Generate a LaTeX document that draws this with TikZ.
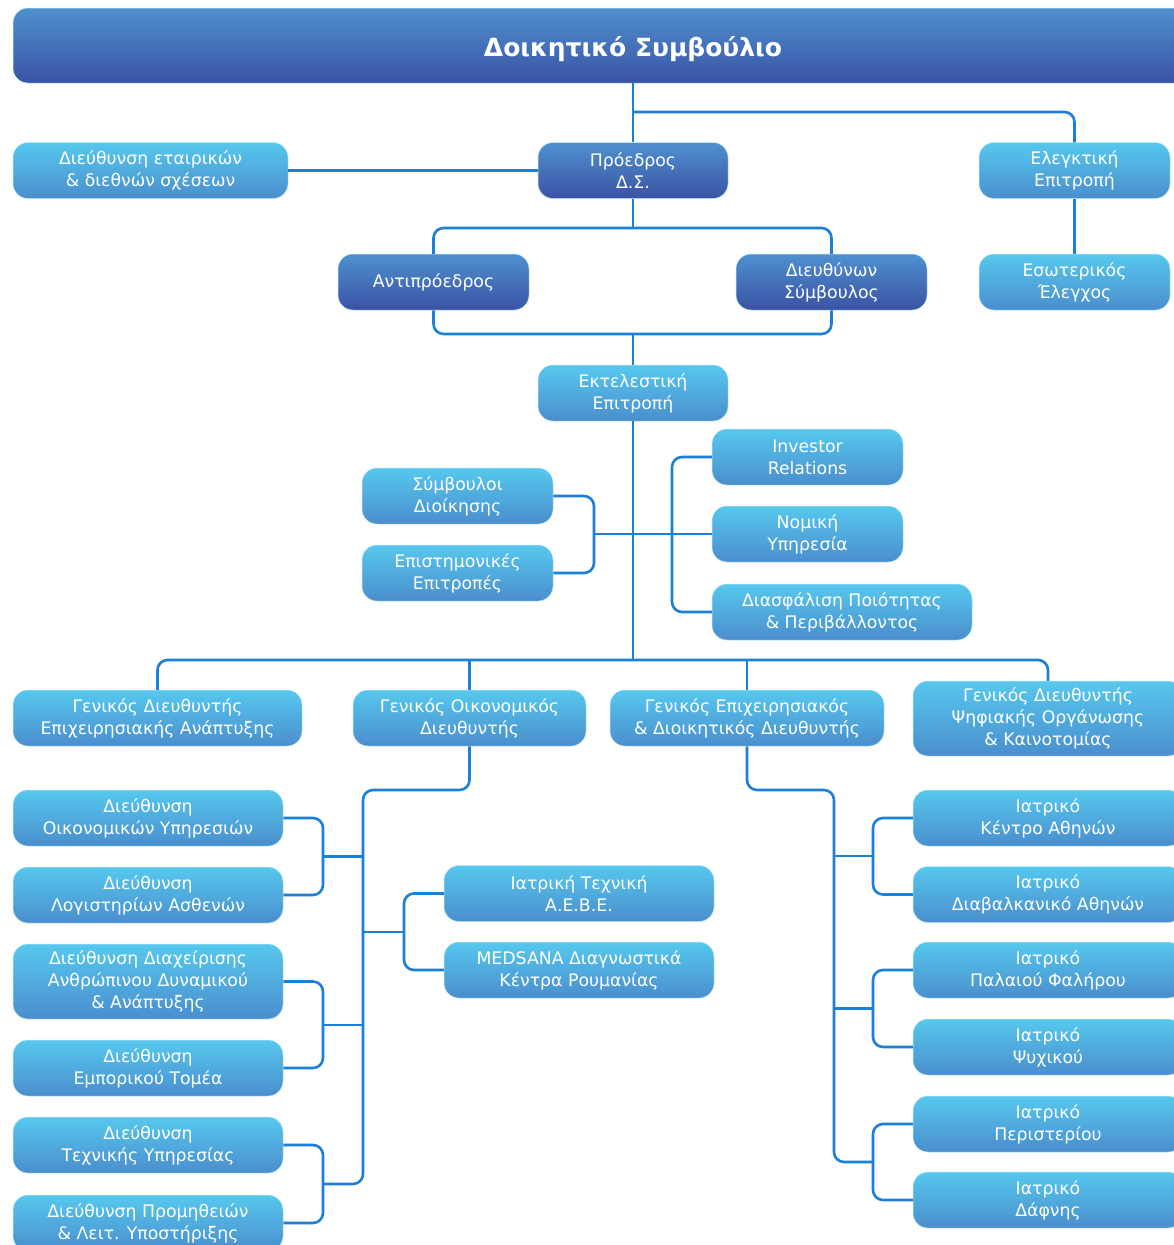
\documentclass[tikz,border=0pt]{standalone}
\usepackage{fontspec}
\setmainfont{DejaVu Sans}
\definecolor{ltop}{HTML}{56C8EE}
\definecolor{lbot}{HTML}{4A8ECD}
\definecolor{dtop}{HTML}{4F90CF}
\definecolor{dbot}{HTML}{3A53A4}
\definecolor{cline}{HTML}{1C7FD8}
\tikzset{
  base/.style={rounded corners=15pt, text=white, align=center, inner sep=0pt,
    font=\fontsize{17.3}{22}\selectfont, draw=white!60!ltop, line width=0.5pt},
  lbox/.style={base, top color=ltop, bottom color=lbot},
  dbox/.style={base, top color=dtop, bottom color=dbot},
  sz/.style 2 args={minimum width=#1pt, minimum height=#2pt},
  conn/.style={draw=cline, line width=2.6pt},
  rc/.style={rounded corners=10pt},
}
\begin{document}
\begin{tikzpicture}[x=1pt,y=-1pt]
\useasboundingbox (0,0) rectangle (1174,1245);
\clip (0,0) rectangle (1174,1245);
\fill[white] (0,0) rectangle (1174,1245);

% helper coordinates
\coordinate (yA) at (0,112);
\coordinate (yB) at (0,228);
\coordinate (yC) at (0,334);
\coordinate (yD) at (0,660);
\coordinate (yE) at (0,790);
\coordinate (xL) at (323,0);
\coordinate (xM) at (363,0);
\coordinate (xN) at (404,0);
\coordinate (xR) at (834,0);
\coordinate (xS) at (873,0);
\coordinate (xP) at (594,0);
\coordinate (xQ) at (672,0);

% nodes
\node[dbox, sz={1240}{75}, font=\fontsize{25}{28}\bfseries] (title) at (633,45.5) {\raisebox{-4pt}[\height][\depth]{Δοικητικό Συμβούλιο}};
\node[lbox, sz={275}{56}] (etair) at (150.5,170.5) {Διεύθυνση εταιρικών\\\& διεθνών σχέσεων};
\node[dbox, sz={190}{56}] (pres) at (633,170.5) {Πρόεδρος\\Δ.Σ.};
\node[lbox, sz={191}{56}] (elg) at (1074.5,170.5) {Ελεγκτική\\Επιτροπή};
\node[dbox, sz={191}{56}] (antip) at (433.5,282) {Αντιπρόεδρος};
\node[dbox, sz={191}{56}] (ceo) at (831.5,282) {Διευθύνων\\Σύμβουλος};
\node[lbox, sz={191}{56}] (eso) at (1074.5,282) {Εσωτερικός\\Έλεγχος};
\node[lbox, sz={190}{56}] (ekt) at (633,393) {Εκτελεστική\\Επιτροπή};
\node[lbox, sz={191}{56}] (inv) at (807.5,457) {Investor\\Relations};
\node[lbox, sz={191}{56}] (nom) at (807.5,534) {Νομική\\Υπηρεσία};
\node[lbox, sz={260}{56}] (dsf) at (842,612) {Διασφάλιση Ποιότητας\\\& Περιβάλλοντος};
\node[lbox, sz={191}{56}] (symb) at (457.5,496) {Σύμβουλοι\\Διοίκησης};
\node[lbox, sz={191}{56}] (epi) at (457.5,573) {Επιστημονικές\\Επιτροπές};
\node[lbox, sz={289}{56}] (gd1) at (157.5,718) {Γενικός Διευθυντής\\Επιχειρησιακής Ανάπτυξης};
\node[lbox, sz={233}{56}] (gd2) at (469.5,718) {Γενικός Οικονομικός\\Διευθυντής};
\node[lbox, sz={274}{56}] (gd3) at (747,718) {Γενικός Επιχειρησιακός\\\& Διοικητικός Διευθυντής};
\node[lbox, sz={270}{75}] (gd4) at (1048,718.5) {Γενικός Διευθυντής\\Ψηφιακής Οργάνωσης\\\& Καινοτομίας};

\node[lbox, sz={270}{56}] (d1) at (148,818) {Διεύθυνση\\Οικονομικών Υπηρεσιών};
\node[lbox, sz={270}{56}] (d2) at (148,895) {Διεύθυνση\\Λογιστηρίων Ασθενών};
\node[lbox, sz={270}{75}] (d3) at (148,981.5) {Διεύθυνση Διαχείρισης\\Ανθρώπινου Δυναμικού\\\& Ανάπτυξης};
\node[lbox, sz={270}{56}] (d4) at (148,1068) {Διεύθυνση\\Εμπορικού Τομέα};
\node[lbox, sz={270}{56}] (d5) at (148,1145) {Διεύθυνση\\Τεχνικής Υπηρεσίας};
\node[lbox, sz={270}{56}] (d6) at (148,1223) {Διεύθυνση Προμηθειών\\\& Λειτ. Υποστήριξης};

\node[lbox, sz={270}{56}] (m1) at (579,893.5) {Ιατρική Τεχνική\\Α.Ε.Β.Ε.};
\node[lbox, sz={270}{56}] (m2) at (579,970) {MEDSANA Διαγνωστικά\\Κέντρα Ρουμανίας};

\node[lbox, sz={270}{56}] (i1) at (1048,818) {Ιατρικό\\Κέντρο Αθηνών};
\node[lbox, sz={270}{56}] (i2) at (1048,894.5) {Ιατρικό\\Διαβαλκανικό Αθηνών};
\node[lbox, sz={270}{56}] (i3) at (1048,970) {Ιατρικό\\Παλαιού Φαλήρου};
\node[lbox, sz={270}{56}] (i4) at (1048,1047) {Ιατρικό\\Ψυχικού};
\node[lbox, sz={270}{56}] (i5) at (1048,1124) {Ιατρικό\\Περιστερίου};
\node[lbox, sz={270}{56}] (i6) at (1048,1200) {Ιατρικό\\Δάφνης};

% top part
\draw[conn] (pres.north |- title.south) -- (pres.north);
\draw[conn, rc] (pres.north |- yA) -- (elg.north |- yA) -- (elg.north);
\draw[conn] (etair.east) -- (pres.west);
\draw[conn] (elg.south) -- (eso.north);
\draw[conn] (pres.south) -- (pres.south |- yB);
\draw[conn, rc] (antip.north) -- (antip.north |- yB) -- (ceo.north |- yB) -- (ceo.north);
\draw[conn, rc] (antip.south) -- (antip.south |- yC) -- (ceo.south |- yC) -- (ceo.south);
\draw[conn] (pres.south |- yC) -- (ekt.north);
\draw[conn] (ekt.south) -- (ekt.south |- yD);
% staff brackets
\draw[conn, rc] (symb.east) -- (symb.east -| xP) -- (epi.east -| xP) -- (epi.east);
\draw[conn] (nom.west -| xP) -- (nom.west);
\draw[conn, rc] (inv.west) -- (inv.west -| xQ) -- (dsf.west -| xQ) -- (dsf.west);
% general directors
\draw[conn, rc] (gd1.north) -- (gd1.north |- yD) -- (gd4.north |- yD) -- (gd4.north);
\draw[conn] (gd2.north |- yD) -- (gd2.north);
\draw[conn] (gd3.north |- yD) -- (gd3.north);
% left tree
\draw[conn, rc] (gd2.south) -- (gd2.south |- yE) -- (xM |- yE) -- (xM |- 0,1184) -- (xL |- 0,1184);
\draw[conn, rc] (d1.east) -- (d1.east -| xL) -- (d2.east -| xL) -- (d2.east);
\draw[conn] (xL |- 0,856.5) -- (xM |- 0,856.5);
\draw[conn, rc] (d3.east) -- (d3.east -| xL) -- (d4.east -| xL) -- (d4.east);
\draw[conn] (xL |- 0,1025) -- (xM |- 0,1025);
\draw[conn, rc] (d5.east) -- (d5.east -| xL) -- (d6.east -| xL) -- (d6.east);
\draw[conn, rc] (m1.west) -- (m1.west -| xN) -- (m2.west -| xN) -- (m2.west);
\draw[conn] (xM |- 0,932) -- (xN |- 0,932);
% right tree
\draw[conn, rc] (gd3.south) -- (gd3.south |- yE) -- (xR |- yE) -- (xR |- 0,1162) -- (xS |- 0,1162);
\draw[conn, rc] (i1.west) -- (i1.west -| xS) -- (i2.west -| xS) -- (i2.west);
\draw[conn] (xR |- 0,856) -- (xS |- 0,856);
\draw[conn, rc] (i3.west) -- (i3.west -| xS) -- (i4.west -| xS) -- (i4.west);
\draw[conn] (xR |- 0,1008.5) -- (xS |- 0,1008.5);
\draw[conn, rc] (i5.west) -- (i5.west -| xS) -- (i6.west -| xS) -- (i6.west);
\end{tikzpicture}
\end{document}
